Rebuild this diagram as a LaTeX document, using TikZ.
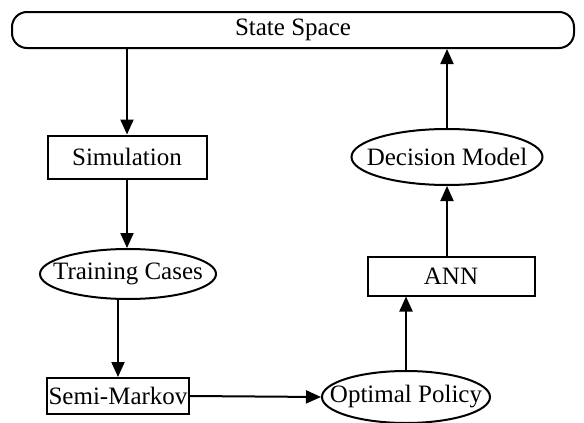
\documentclass[tikz,border=0pt]{standalone}
\usepackage{fontspec}
\setmainfont{Liberation Serif}
\usetikzlibrary{arrows.meta,shapes.geometric}

\begin{document}
\begin{tikzpicture}[x=1pt,y=-1pt,
    every node/.style={font=\fontsize{25}{29}\selectfont,inner sep=0pt},
    box/.style={draw,rectangle,line width=2pt},
    oval/.style={draw,ellipse,line width=2pt,inner xsep=-20pt},
    link/.style={line width=2pt,-{Triangle[length=15pt,width=13pt]}}]
    \useasboundingbox (0,0) rectangle (584,423);
    \node[draw,line width=2pt,rounded corners=15pt,minimum width=562pt,minimum height=36pt] (space) at (293,30) {State Space};
    \node[box,minimum width=159pt,minimum height=43pt] (sim) at (127,157) {Simulation};
    \node[oval,minimum width=176pt,minimum height=50pt] (cases) at (128,274) {Training Cases};
    \node[box,minimum width=142pt,minimum height=36pt] (semi) at (118,396) {Semi-Markov};
    \node[oval,minimum width=168pt,minimum height=52pt] (policy) at (406,397) {Optimal Policy};
    \node[box,minimum width=167pt,minimum height=39pt] (ann) at (451,276) {ANN};
    \node[oval,minimum width=191pt,minimum height=56pt] (model) at (447,157) {Decision Model};
    \draw[link] (space.south -| sim.north) -- (sim.north);
    \draw[link] (sim.south) -- (sim.south |- cases.north);
    \draw[link] (cases.south -| semi.north) -- (semi.north);
    \draw[link] (semi.east) -- (policy.west);
    \draw[link] (policy.north) -- (policy.north |- ann.south);
    \draw[link] (model.south |- ann.north) -- (model.south);
    \draw[link] (model.north) -- (model.north |- space.south);
\end{tikzpicture}
\end{document}
